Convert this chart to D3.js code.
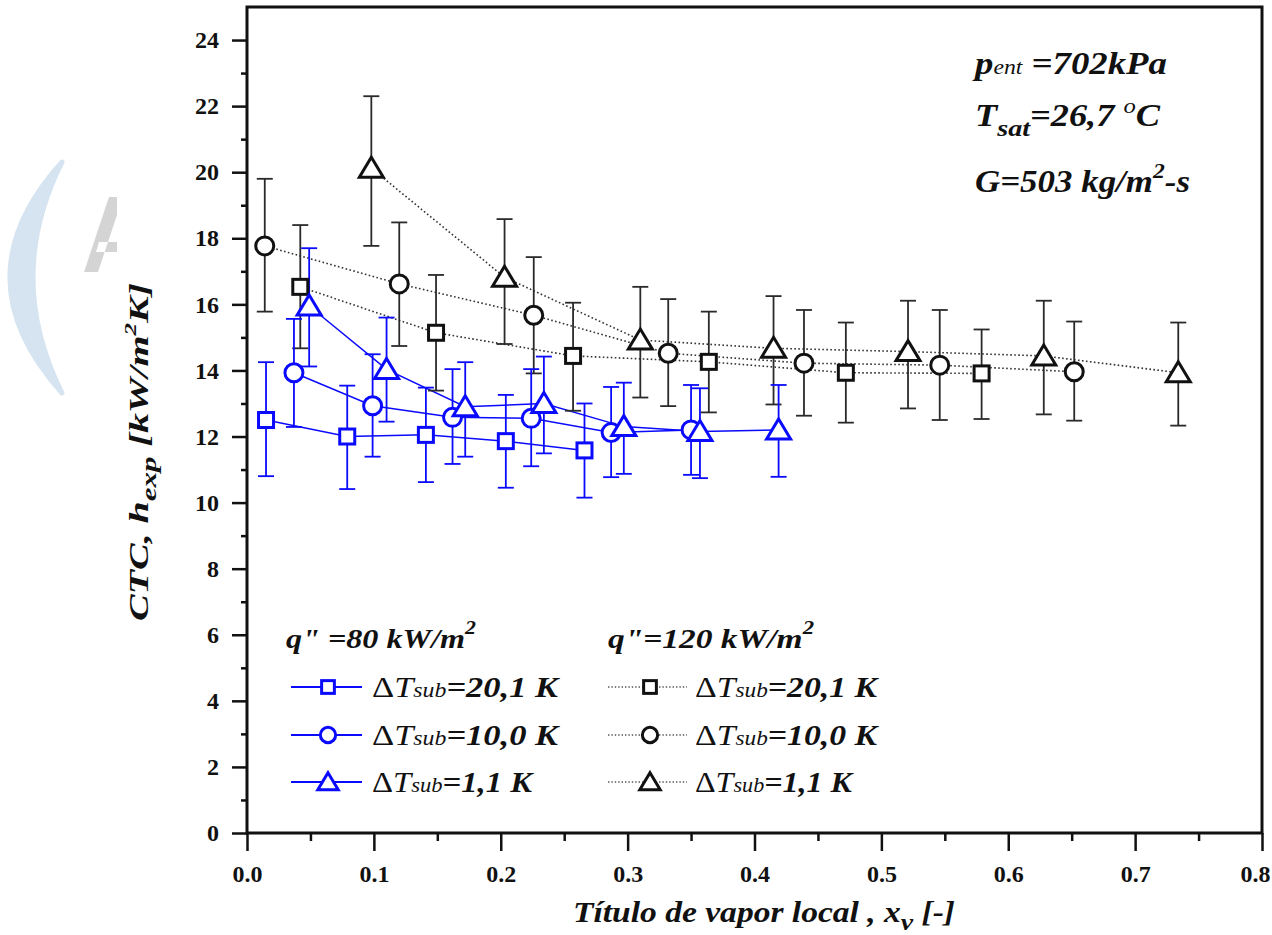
<!DOCTYPE html>
<html>
<head>
<meta charset="utf-8">
<script src="https://cdn.jsdelivr.net/npm/d3@7"></script>
<style>
  html, body { margin: 0; padding: 0; background: #fff; }
  svg { display: block; }
  svg text { font-family: "Liberation Serif", "Times New Roman", Times, "Nimbus Roman", "Noto Serif", "DejaVu Serif", FreeSerif, Tinos, serif; }
</style>
</head>
<body>
<div id="chart"></div>
<script>
// q" = 80 kW/m2 (blue)
var b20_x  = [0.015, 0.079, 0.141, 0.204, 0.266];
var b20_h  = [12.50, 12.00, 12.05, 11.86, 11.58];
var b20_hi = [14.25, 13.54, 13.48, 13.26, 13.00];
var b20_lo = [10.80, 10.41, 10.62, 10.45, 10.15];

var b10_x  = [0.037, 0.099, 0.162, 0.224, 0.287, 0.350];
var b10_h  = [13.93, 12.93, 12.58, 12.55, 12.12, 12.20];
var b10_hi = [15.56, 14.49, 14.04, 14.04, 13.50, 13.56];
var b10_lo = [12.29, 11.39, 11.17, 11.10, 10.77, 10.84];

var b1_x  = [0.049, 0.110, 0.172, 0.234, 0.297, 0.357, 0.419];
var b1_h  = [15.95, 14.03, 12.90, 13.00, 12.30, 12.15, 12.20];
var b1_hi = [17.70, 15.60, 14.25, 14.42, 13.63, 13.46, 13.56];
var b1_lo = [14.12, 12.45, 11.39, 11.49, 10.87, 10.74, 10.78];

// q" = 120 kW/m2 (black)
var k20_x  = [0.042, 0.149, 0.257, 0.364, 0.472, 0.579];
var k20_h  = [16.53, 15.14, 14.44, 14.26, 13.93, 13.91];
var k20_hi = [18.40, 16.89, 16.05, 15.78, 15.45, 15.24];
var k20_lo = [14.67, 13.39, 12.78, 12.73, 12.42, 12.53];

var k10_x  = [0.014, 0.120, 0.226, 0.332, 0.439, 0.546, 0.652];
var k10_h  = [17.77, 16.62, 15.67, 14.52, 14.22, 14.16, 13.96];
var k10_hi = [19.80, 18.48, 17.43, 16.16, 15.83, 15.83, 15.48];
var k10_lo = [15.78, 14.74, 13.91, 12.92, 12.63, 12.50, 12.48];

var k1_x  = [0.098, 0.203, 0.310, 0.415, 0.521, 0.628, 0.734];
var k1_h  = [20.12, 16.82, 14.92, 14.67, 14.57, 14.44, 13.93];
var k1_hi = [22.30, 18.58, 16.53, 16.25, 16.11, 16.11, 15.45];
var k1_lo = [17.77, 14.80, 13.18, 12.97, 12.85, 12.67, 12.33];

var x_major = [0, 0.1, 0.2, 0.3, 0.4, 0.5, 0.6, 0.7, 0.8];
var x_minor = [0.05, 0.15, 0.25, 0.35, 0.45, 0.55, 0.65, 0.75];
var y_major = [0, 2, 4, 6, 8, 10, 12, 14, 16, 18, 20, 22, 24];
var y_minor = [1, 3, 5, 7, 9, 11, 13, 15, 17, 19, 21, 23];

var legend_left  = ['20,1 K', '10,0 K', '1,1 K'];
var legend_right = ['20,1 K', '10,0 K', '1,1 K'];

function figure_ctc() {
    var W = 1272, H = 935;
    var plot = { left: 247, right: 1262, top: 7, bottom: 833 };
    var blue = '#0a0aff';

    var svg = d3.select('#chart').append('svg')
        .attr('width', W).attr('height', H);

    // faint watermark at left margin
    svg.append('path')
        .attr('d', 'M62,162 Q-42,277 62,393 Q4,277 62,162 Z')
        .attr('fill', '#d5e4f0').attr('stroke', '#d5e4f0')
        .attr('stroke-width', 5).attr('stroke-linejoin', 'round');
    svg.append('path')
        .attr('d', 'M84,272 L98,272 L117,215 L117,197 L109,197 Z M99,242 L117,242 L117,252 L96,252 Z')
        .attr('fill', '#d4d4d4');

    var x = d3.scaleLinear().domain([0, 0.8]).range([plot.left, plot.right]);
    var y = d3.scaleLinear().domain([0, 25]).range([plot.bottom, plot.top]);

    // axes
    var gx = svg.append('g').attr('transform', `translate(0, ${plot.bottom})`);
    gx.call(d3.axisBottom(x).tickValues(x_major).tickSize(18).tickPadding(14)
        .tickFormat(d3.format('.1f')));
    gx.append('g').call(d3.axisBottom(x).tickValues(x_minor).tickSize(8).tickFormat(''));

    var gy = svg.append('g').attr('transform', `translate(${plot.left}, 0)`);
    gy.call(d3.axisLeft(y).tickValues(y_major).tickSize(15).tickPadding(13));
    gy.append('g').call(d3.axisLeft(y).tickValues(y_minor).tickSize(6).tickFormat(''));

    svg.selectAll('g').attr('font-family', null);
    svg.selectAll('.domain').remove();
    svg.selectAll('.tick line').attr('stroke', '#111').attr('stroke-width', 2.5);
    svg.selectAll('.tick text')
        .style('font-weight', 700)
        .style('font-size', '24px')
        .attr('fill', '#111');
    gx.selectAll('.tick text').filter(function(d) { return d === 0.8; }).attr('dx', -7);

    svg.append('rect')
        .attr('x', plot.left).attr('y', plot.top)
        .attr('width', plot.right - plot.left)
        .attr('height', plot.bottom - plot.top)
        .attr('fill', 'none').attr('stroke', '#111').attr('stroke-width', 3);

    // axis titles
    var yt = svg.append('text')
        .attr('transform', 'translate(148, 452) rotate(-90)')
        .attr('text-anchor', 'middle')
        .attr('textLength', 338).attr('lengthAdjust', 'spacingAndGlyphs')
        .style('font-style', 'italic').style('font-weight', 700).style('font-size', '27px')
        .attr('fill', '#111');
    yt.append('tspan').text('CTC, h');
    yt.append('tspan').attr('dy', 8).style('font-size', '21px').text('exp');
    yt.append('tspan').attr('dy', -8).text(' [kW/m');
    yt.append('tspan').attr('dy', -12).style('font-size', '17px').text('2');
    yt.append('tspan').attr('dy', 12).text('K]');

    var xt = svg.append('text')
        .attr('x', 764).attr('y', 922)
        .attr('text-anchor', 'middle')
        .attr('textLength', 382).attr('lengthAdjust', 'spacingAndGlyphs')
        .style('font-style', 'italic').style('font-weight', 700).style('font-size', '29px')
        .attr('fill', '#111');
    xt.append('tspan').text('Título de vapor local , x');
    xt.append('tspan').attr('dy', 8).style('font-size', '24px').text('v');
    xt.append('tspan').attr('dy', -8).text(' [-]');

    // series
    function zip(xs, hs, his, los) {
        return xs.map(function(v, i) { return { x: v, h: hs[i], hi: his[i], lo: los[i] }; });
    }
    var series = [
        { data: zip(k20_x, k20_h, k20_hi, k20_lo), shape: 'square',   color: '#111', dotted: true },
        { data: zip(k10_x, k10_h, k10_hi, k10_lo), shape: 'circle',   color: '#111', dotted: true },
        { data: zip(k1_x,  k1_h,  k1_hi,  k1_lo),  shape: 'triangle', color: '#111', dotted: true },
        { data: zip(b20_x, b20_h, b20_hi, b20_lo), shape: 'square',   color: blue,   dotted: false },
        { data: zip(b10_x, b10_h, b10_hi, b10_lo), shape: 'circle',   color: blue,   dotted: false },
        { data: zip(b1_x,  b1_h,  b1_hi,  b1_lo),  shape: 'triangle', color: blue,   dotted: false }
    ];

    function marker(g, shape, color, s) {
        if (shape === 'square') {
            g.append('rect').attr('x', -7.5 * s).attr('y', -7.5 * s)
                .attr('width', 15 * s).attr('height', 15 * s);
        } else if (shape === 'circle') {
            g.append('circle').attr('r', 9 * s);
        } else {
            g.append('path').attr('d', `M0,${-11 * s} L${12 * s},${9 * s} L${-12 * s},${9 * s} Z`);
        }
        g.selectAll('rect, circle, path')
            .attr('fill', '#fff').attr('stroke', color).attr('stroke-width', 3)
            .attr('stroke-linejoin', 'miter');
    }

    var line = d3.line().x(function(d) { return x(d.x); }).y(function(d) { return y(d.h); });

    series.forEach(function(s) {
        svg.append('path').datum(s.data)
            .attr('d', line)
            .attr('fill', 'none')
            .attr('stroke', s.dotted ? '#333' : blue)
            .attr('stroke-width', s.dotted ? 1.6 : 1.5)
            .attr('stroke-dasharray', s.dotted ? '1.6,2.4' : null);
    });

    series.forEach(function(s) {
        var eb = svg.append('g')
            .attr('stroke', s.dotted ? '#2a2a2a' : blue)
            .attr('stroke-width', 1.8);
        var bars = eb.selectAll('g').data(s.data).enter().append('g');
        bars.append('line')
            .attr('x1', function(d) { return x(d.x); }).attr('x2', function(d) { return x(d.x); })
            .attr('y1', function(d) { return y(d.hi); }).attr('y2', function(d) { return y(d.lo); });
        ['hi', 'lo'].forEach(function(k) {
            bars.append('line')
                .attr('x1', function(d) { return x(d.x) - 8; }).attr('x2', function(d) { return x(d.x) + 8; })
                .attr('y1', function(d) { return y(d[k]); }).attr('y2', function(d) { return y(d[k]); });
        });
    });

    series.forEach(function(s) {
        svg.append('g').selectAll('g').data(s.data).enter().append('g')
            .attr('transform', function(d) { return `translate(${x(d.x)}, ${y(d.h)})`; })
            .each(function() { marker(d3.select(this), s.shape, s.color, 1); });
    });

    // annotations
    function bi(t) { return t.style('font-weight', 700).style('font-style', 'italic'); }
    function note(yy, len) {
        return bi(svg.append('text').attr('x', 975).attr('y', yy).style('font-size', '31px'))
            .attr('fill', '#111')
            .attr('textLength', len).attr('lengthAdjust', 'spacingAndGlyphs');
    }
    var a1 = note(74, 192);
    a1.append('tspan').text('p');
    a1.append('tspan').style('font-weight', 400).style('font-size', '20px').text('ent');
    a1.append('tspan').text(' =702kPa');
    var a2 = note(126, 185);
    a2.append('tspan').text('T');
    a2.append('tspan').attr('dy', 10).style('font-size', '24px').text('sat');
    a2.append('tspan').attr('dy', -10).text('=26,7 ');
    a2.append('tspan').attr('dy', -13).style('font-size', '21px').style('font-weight', 400).text('o');
    a2.append('tspan').attr('dy', 13).text('C');
    var a3 = note(192, 215);
    a3.append('tspan').text('G=503 kg/m');
    a3.append('tspan').attr('dy', -14).style('font-size', '21px').text('2');
    a3.append('tspan').attr('dy', 14).text('-s');

    // legend
    var shapes = ['square', 'circle', 'triangle'];
    var rows = [687, 735, 782];
    function legend_block(x0, hlen, lx1, lx2, mx, tx, tlen, header, labels, color, dotted) {
        var hd = bi(svg.append('text').attr('x', x0).attr('y', 648).style('font-size', '28px'))
            .attr('fill', '#111')
            .attr('textLength', hlen).attr('lengthAdjust', 'spacingAndGlyphs');
        hd.append('tspan').text(header);
        hd.append('tspan').attr('dy', -14).style('font-size', '19px').text('2');
        labels.forEach(function(lab, i) {
            svg.append('line')
                .attr('x1', lx1).attr('x2', lx2).attr('y1', rows[i]).attr('y2', rows[i])
                .attr('stroke', dotted ? '#555' : blue)
                .attr('stroke-width', dotted ? 1.4 : 2)
                .attr('stroke-dasharray', dotted ? '1.4,2' : null);
            var mg = svg.append('g').attr('transform', `translate(${mx}, ${rows[i]})`);
            marker(mg, shapes[i], color, 0.85);
            var t = svg.append('text').attr('x', tx).attr('y', rows[i] + 10)
                .style('font-size', '29px').attr('fill', '#111')
                .attr('textLength', tlen[i]).attr('lengthAdjust', 'spacingAndGlyphs');
            t.append('tspan').text('\u0394');
            t.append('tspan').style('font-style', 'italic').text('T');
            t.append('tspan').style('font-style', 'italic').style('font-size', '20px').text('sub');
            t.append('tspan').style('font-style', 'italic').style('font-weight', 700).text('=' + lab);
        });
    }
    legend_block(286, 190, 291, 362, 328, 372, [186, 186, 160], 'q" =80 kW/m', legend_left, blue, false);
    legend_block(608, 206, 608, 687, 650, 695, [182, 182, 157], 'q"=120 kW/m', legend_right, '#111', true);
}

figure_ctc();
</script>
</body>
</html>
